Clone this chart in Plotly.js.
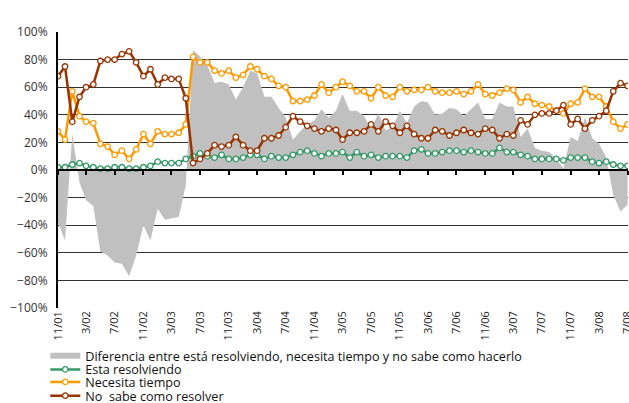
<!DOCTYPE html>
<html>
<head>
<meta charset="utf-8">
<script src="https://cdn.plot.ly/plotly-3.0.1.min.js"></script>
<style>
  html, body { margin: 0; padding: 0; background: #fff; }
  #chart { width: 629px; height: 403px; }
</style>
</head>
<body>
<div id="chart"></div>
<script>
// meses: 11/2001 .. 7/2008, one point per month
const meses = [];
for (let i = 0; i < 81; i++) {
  const d = new Date(2001, 10 + i, 1);
  meses.push(d.getFullYear() + '-' + String(d.getMonth() + 1).padStart(2, '0') + '-01');
}

const diferencia = [-38, -51, 26, -9, -22, -26, -59, -62, -67, -68, -77, -62, -40, -51, -28, -36, -35, -34, -11, 87,
  82, 76, 63, 64, 62, 51, 60, 72, 70, 53, 53, 45, 38, 22, 28, 33, 36, 44, 38, 43,
  55, 43, 43, 39, 30, 41, 29, 31, 43, 34, 46, 50, 49, 40, 41, 45, 44, 39, 44, 49,
  37, 37, 49, 46, 46, 24, 30, 16, 14, 13, 8, 1, 24, 21, 38, 23, 19, 9, -18, -30, -25];

const resolviendo = [2, 2, 4, 5, 3, 2, 1, 1, 2, 2, 1, 1, 2, 3, 6, 5, 5, 5, 8, 10,
  12, 10, 9, 11, 8, 8, 9, 11, 11, 8, 10, 9, 9, 11, 13, 14, 12, 10, 12, 12,
  13, 9, 13, 10, 11, 9, 10, 10, 10, 9, 14, 15, 12, 12, 13, 14, 14, 13, 14, 13,
  12, 12, 16, 13, 13, 11, 10, 8, 8, 8, 8, 7, 9, 9, 9, 6, 5, 6, 4, 3, 3];

const necesita = [28, 22, 57, 39, 35, 34, 19, 17, 11, 14, 8, 15, 26, 19, 28, 26, 26, 27, 33, 82,
  78, 78, 72, 70, 72, 67, 69, 75, 73, 68, 66, 61, 60, 50, 50, 51, 54, 62, 56, 60,
  64, 61, 57, 57, 52, 60, 54, 53, 60, 57, 58, 58, 60, 57, 56, 56, 57, 55, 57, 62,
  55, 54, 56, 59, 58, 49, 53, 48, 47, 46, 43, 41, 48, 49, 59, 53, 53, 46, 35, 30, 33];

const noSabe = [68, 75, 35, 53, 60, 62, 79, 80, 80, 84, 86, 78, 68, 73, 62, 67, 66, 66, 52, 5,
  8, 12, 18, 17, 18, 24, 18, 14, 14, 23, 23, 25, 31, 39, 35, 32, 30, 28, 30, 29,
  22, 27, 27, 28, 33, 28, 35, 32, 27, 32, 26, 23, 23, 29, 28, 25, 27, 29, 27, 26,
  30, 29, 23, 26, 25, 36, 33, 40, 41, 41, 43, 47, 33, 37, 30, 36, 39, 43, 57, 63, 61];

const nombres = [
  'Diferencia entre está resolviendo, necesita tiempo y no sabe como hacerlo',
  'Esta resolviendo',
  'Necesita tiempo',
  'No\u00a0 sabe como resolver'
];
const colores = ['#c0c0c0', '#339966', '#ff9900', '#993300'];

const font = 'Open Sans, Liberation Sans, sans-serif';

function serie(y, idx, xa) {
  return {
    type: 'scatter', mode: 'lines+markers', x: meses, y: y, name: nombres[idx],
    xaxis: xa || 'x', legend: 'legend' + (idx + 1),
    line: { color: colores[idx], width: 2.5 },
    marker: { size: 5.5, color: '#fff', line: { color: colores[idx], width: 1.3 } },
    hoverinfo: 'skip'
  };
}

const traces = [
  { type: 'scatter', mode: 'none', x: meses, y: diferencia, name: nombres[0],
    fill: 'tozeroy', fillcolor: colores[0], legend: 'legend', hoverinfo: 'skip' },
  serie(resolviendo, 1),
  serie(necesita, 2),
  serie(noSabe, 3, 'x2')
];

// one legend per row, placed against the whole page
const filaY = [0.1165, 0.0825, 0.0515, 0.0175];
function leyenda(i) {
  return { xref: 'container', yref: 'container', x: 0.072, xanchor: 'left',
           y: filaY[i], yanchor: 'middle', bgcolor: 'rgba(0,0,0,0)',
           font: { family: font, size: 12.6, color: '#111' }, tracegroupgap: 0 };
}

const ejeX = {
  type: 'date', range: [meses[0], '2008-07-03'], dtick: 'M4', tick0: meses[0],
  tickformat: '%-m/%y', showgrid: false, zeroline: false
};

const layout = {
  width: 629, height: 403,
  margin: { l: 58, r: 1, t: 32, b: 95, autoexpand: false },
  paper_bgcolor: '#fff', plot_bgcolor: '#fff',
  font: { family: font, color: '#222' },
  showlegend: true,
  legend: leyenda(0), legend2: leyenda(1), legend3: leyenda(2), legend4: leyenda(3),
  xaxis: Object.assign({}, ejeX, {
    tickangle: -90, ticks: '', showline: false, automargin: false,
    ticklabeloverflow: 'allow',
    tickfont: { family: font, size: 11, color: '#222' }
  }),
  xaxis2: Object.assign({}, ejeX, {
    overlaying: 'x', matches: 'x', anchor: 'free', position: 0.5,
    showticklabels: false, ticks: 'outside', ticklen: 4, tickwidth: 2, tickcolor: '#000',
    showline: true, linecolor: '#000', linewidth: 2
  }),
  yaxis: {
    range: [-100, 100], dtick: 20, ticksuffix: '%', zeroline: false, automargin: false,
    showgrid: true, gridcolor: '#333', gridwidth: 1,
    showline: true, linecolor: '#000', linewidth: 2, ticks: '',
    ticklabelstandoff: 6,
    tickfont: { family: font, size: 12, color: '#333' }
  }
};

Plotly.newPlot('chart', traces, layout, { displayModeBar: false, staticPlot: true });
</script>
</body>
</html>
